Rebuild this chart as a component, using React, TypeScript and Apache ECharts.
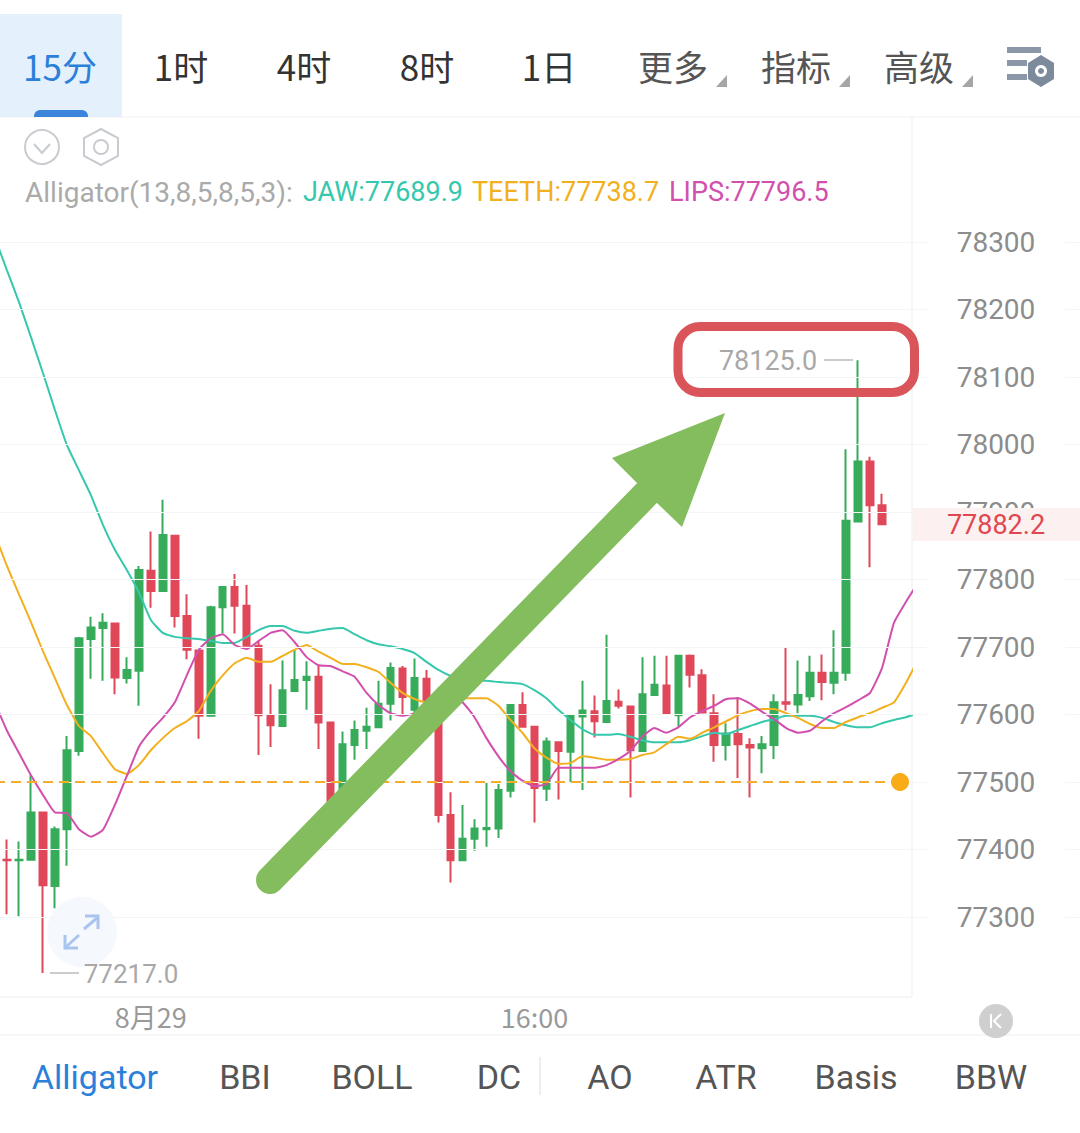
import React, { useEffect, useRef } from "react";
import * as echarts from "echarts";

const yTicks = [78300, 78200, 78100, 78000, 77900, 77800, 77700, 77600, 77500, 77400, 77300];
const xLabels: Record<number, string> = { 13: "8月29", 45: "16:00" };
const timeTabs = ["1时", "4时", "8时", "1日"];
const moreTabs = ["更多", "指标", "高级"];
const indicatorTabs = ["BBI", "BOLL", "DC", "AO", "ATR", "Basis", "BBW"];

// open, close, low, high
const candles = [
  [77385, 77384, 77304, 77415], [77384, 77385, 77301, 77412], [77385, 77455, 77385, 77510], [77455, 77347, 77217, 77455],
  [77346, 77430, 77313, 77434], [77430, 77547, 77376, 77568], [77546, 77713, 77539, 77715], [77712, 77729, 77653, 77745],
  [77728, 77736, 77650, 77750], [77735, 77655, 77630, 77735], [77654, 77666, 77646, 77685], [77665, 77814, 77613, 77820],
  [77813, 77783, 77758, 77871], [77783, 77866, 77783, 77918], [77865, 77746, 77729, 77865], [77746, 77696, 77682, 77778],
  [77695, 77598, 77564, 77696], [77598, 77759, 77598, 77761], [77759, 77789, 77720, 77789], [77789, 77761, 77720, 77808],
  [77761, 77702, 77702, 77792], [77702, 77599, 77540, 77708], [77598, 77584, 77552, 77645], [77583, 77636, 77583, 77680],
  [77635, 77651, 77635, 77696], [77651, 77656, 77607, 77679], [77656, 77588, 77549, 77673], [77588, 77470, 77460, 77588],
  [77480, 77556, 77470, 77575], [77555, 77577, 77533, 77591], [77576, 77582, 77549, 77610], [77581, 77616, 77581, 77650],
  [77616, 77669, 77591, 77677], [77668, 77626, 77600, 77672], [77607, 77654, 77600, 77683], [77653, 77620, 77610, 77666],
  [77630, 77451, 77440, 77640], [77451, 77384, 77351, 77485], [77384, 77416, 77384, 77466], [77416, 77431, 77398, 77445],
  [77430, 77432, 77404, 77499], [77431, 77488, 77417, 77497], [77487, 77614, 77477, 77614], [77614, 77582, 77582, 77633],
  [77582, 77491, 77440, 77582], [77490, 77560, 77472, 77566], [77559, 77546, 77474, 77559], [77545, 77598, 77500, 77598],
  [77597, 77606, 77488, 77650], [77605, 77590, 77566, 77628], [77589, 77620, 77589, 77718], [77619, 77613, 77609, 77637],
  [77612, 77547, 77477, 77612], [77546, 77630, 77546, 77685], [77629, 77644, 77629, 77687], [77643, 77601, 77601, 77687],
  [77599, 77687, 77582, 77687], [77687, 77659, 77640, 77689], [77658, 77603, 77603, 77667], [77602, 77555, 77530, 77630],
  [77555, 77572, 77532, 77587], [77571, 77556, 77506, 77626], [77555, 77551, 77477, 77565], [77550, 77556, 77513, 77568],
  [77555, 77618, 77534, 77630], [77618, 77616, 77606, 77700], [77615, 77629, 77602, 77680], [77627, 77662, 77620, 77687],
  [77662, 77648, 77621, 77689], [77647, 77662, 77630, 77725], [77662, 77887, 77650, 77993], [77886, 77975, 77886, 78125],
  [77975, 77910, 77818, 77982], [77910, 77882, 77882, 77927],
];

const jaw = [
  78306, 78258, 78211, 78159, 78106, 78051, 77999, 77962, 77925, 77881, 77844, 77814, 77781, 77740, 77721, 77715, 77713, 77712, 77709, 77706,
  77706, 77715, 77725, 77731, 77731, 77724, 77721, 77724, 77727, 77728, 77719, 77710, 77704, 77701, 77697, 77691, 77678, 77666, 77657, 77651,
  77650, 77650, 77648, 77647, 77645, 77636, 77624, 77607, 77592, 77578, 77570, 77570, 77571, 77567, 77562, 77559, 77559, 77559, 77562, 77568,
  77573, 77571, 77577, 77583, 77589, 77593, 77598, 77598, 77598, 77595, 77589, 77584, 77581, 77581, 77587, 77592, 77596, 77602,
];
const teeth = [
  77866, 77820, 77778, 77737, 77694, 77654, 77614, 77583, 77568, 77543, 77519, 77512, 77525, 77547, 77565, 77580, 77590, 77605, 77635, 77658,
  77676, 77684, 77678, 77678, 77687, 77696, 77703, 77693, 77684, 77675, 77675, 77670, 77663, 77647, 77632, 77623, 77618, 77618, 77621, 77624,
  77624, 77624, 77613, 77592, 77573, 77550, 77536, 77527, 77528, 77538, 77536, 77533, 77533, 77534, 77540, 77544, 77556, 77567, 77564, 77573,
  77581, 77590, 77599, 77605, 77608, 77608, 77602, 77595, 77586, 77580, 77580, 77589, 77596, 77602, 77610, 77618, 77647, 77681,
];
const lips = [
  77617, 77576, 77543, 77510, 77481, 77455, 77454, 77430, 77419, 77429, 77466, 77509, 77552, 77576, 77595, 77618, 77658, 77696, 77713, 77719,
  77703, 77697, 77709, 77721, 77725, 77707, 77685, 77673, 77672, 77664, 77656, 77632, 77614, 77602, 77598, 77602, 77610, 77617, 77621, 77618,
  77596, 77565, 77538, 77516, 77502, 77494, 77497, 77521, 77521, 77521, 77521, 77525, 77534, 77546, 77567, 77580, 77573, 77581, 77596, 77605,
  77613, 77623, 77624, 77616, 77604, 77593, 77580, 77573, 77576, 77590, 77602, 77611, 77621, 77632, 77669, 77736, 77767, 77795,
];
const priceLevel = 77500;
const highLabel = "78125.0";
const lowLabel = "77217.0";
const lastPrice = "77882.2";

const UP = "#36ab5a";
const DOWN = "#e0485a";
const TEAL = "#35c8ad";
const AMBER = "#f2b01e";
const PINK = "#d24fae";
const LATIN = "Roboto, 'Noto Sans', sans-serif";
const CJK = "'Noto Sans CJK SC', Roboto, sans-serif";

const T = (x: number, y: number, text: string, fill: string, size: number, align = "center", font = LATIN, z = 30) => ({
  type: "text", x, y, z, silent: true,
  style: { text, fill, fontSize: size, fontFamily: font, align, verticalAlign: "middle" },
});
const hexagon = (cx: number, cy: number, rx: number, ry: number) => [
  [cx, cy - ry], [cx + rx, cy - ry / 2], [cx + rx, cy + ry / 2], [cx, cy + ry], [cx - rx, cy + ry / 2], [cx - rx, cy - ry / 2],
];

export default function App() {
  const ref = useRef<HTMLDivElement>(null);
  useEffect(() => {
    const chart = echarts.init(ref.current!, undefined, { renderer: "svg" });
    const count = jaw.length;
    const cats = Array.from({ length: count }, (_, i) => xLabels[i] ?? "");
    const elements: any[] = [
      // header
      { type: "rect", z: 25, shape: { x: 0, y: 14, width: 122, height: 103 }, style: { fill: "#e5f0fd" } },
      { type: "rect", z: 26, shape: { x: 34, y: 110, width: 54, height: 7, r: [6, 6, 0, 0] }, style: { fill: "#3a84dc" } },
      T(60, 65, "15分", "#2b80da", 35, "center", CJK),
      ...timeTabs.map((t, i) => T([181, 304, 427, 549][i], 65, t, "#333333", 35, "center", CJK)),
      ...moreTabs.map((t, i) => T([673, 796, 919][i], 65, t, "#555555", 35, "center", CJK)),
      ...[727, 850, 973].map((x) => ({
        type: "polygon", z: 30, shape: { points: [[x, 75], [x, 87], [x - 11, 87]] }, style: { fill: "#a6a6a6" },
      })),
      { type: "rect", z: 30, shape: { x: 1007, y: 47, width: 34, height: 6 }, style: { fill: "#8b97a8" } },
      { type: "rect", z: 30, shape: { x: 1007, y: 60, width: 20, height: 6 }, style: { fill: "#8b97a8" } },
      { type: "rect", z: 30, shape: { x: 1007, y: 74, width: 20, height: 6 }, style: { fill: "#8b97a8" } },
      { type: "polygon", z: 30, shape: { points: hexagon(1041, 71, 13, 16) }, style: { fill: "#7d8a9c" } },
      { type: "circle", z: 31, shape: { cx: 1041, cy: 71, r: 6 }, style: { fill: "#fff" } },
      { type: "circle", z: 32, shape: { cx: 1041, cy: 71, r: 3 }, style: { fill: "#7d8a9c" } },
      // frames
      { type: "line", z: 3, shape: { x1: 0, y1: 117, x2: 1080, y2: 117 }, style: { stroke: "#f0f0f0", lineWidth: 1 } },
      { type: "line", z: 3, shape: { x1: 912, y1: 117, x2: 912, y2: 997 }, style: { stroke: "#eeeeee", lineWidth: 1 } },
      { type: "line", z: 3, shape: { x1: 0, y1: 997, x2: 912, y2: 997 }, style: { stroke: "#eeeeee", lineWidth: 1 } },
      { type: "line", z: 3, shape: { x1: 0, y1: 1035, x2: 1080, y2: 1035 }, style: { stroke: "#eeeeee", lineWidth: 1 } },
      // small icons
      { type: "circle", z: 30, shape: { cx: 42, cy: 147, r: 17 }, style: { fill: "none", stroke: "#c8cbd0", lineWidth: 2 } },
      { type: "polyline", z: 30, shape: { points: [[34, 144], [42, 153], [50, 144]] }, style: { fill: "none", stroke: "#c8cbd0", lineWidth: 2 } },
      { type: "polygon", z: 30, shape: { points: hexagon(101, 147, 17, 18) }, style: { fill: "none", stroke: "#c8cbd0", lineWidth: 2 } },
      { type: "circle", z: 30, shape: { cx: 101, cy: 147, r: 7 }, style: { fill: "none", stroke: "#c8cbd0", lineWidth: 2 } },
      // legend
      T(25, 192, "Alligator(13,8,5,8,5,3):", "#aaaaaa", 28, "left"),
      T(303, 192, "JAW:77689.9", TEAL, 27, "left"),
      T(472, 192, "TEETH:77738.7", AMBER, 27, "left"),
      T(669, 192, "LIPS:77796.5", PINK, 27, "left"),
      // hi/lo labels
      T(768, 361, highLabel, "#a8a8a8", 27),
      { type: "line", z: 30, shape: { x1: 824, y1: 360, x2: 853, y2: 360 }, style: { stroke: "#cccccc", lineWidth: 2 } },
      { type: "line", z: 30, shape: { x1: 50, y1: 973, x2: 79, y2: 973 }, style: { stroke: "#cccccc", lineWidth: 2 } },
      T(131, 974, lowLabel, "#a8a8a8", 26),
      // expand button
      { type: "circle", z: 24, shape: { cx: 82, cy: 932, r: 35 }, style: { fill: "#f3f7fd", opacity: 0.85 } },
      { type: "polyline", z: 30, shape: { points: [[84, 929], [97, 918]] }, style: { fill: "none", stroke: "#a9c4ee", lineWidth: 3 } },
      { type: "polyline", z: 30, shape: { points: [[85, 916], [98, 916], [98, 929]] }, style: { fill: "none", stroke: "#a9c4ee", lineWidth: 3 } },
      { type: "polyline", z: 30, shape: { points: [[66, 947], [79, 935]] }, style: { fill: "none", stroke: "#a9c4ee", lineWidth: 3 } },
      { type: "polyline", z: 30, shape: { points: [[65, 935], [65, 948], [78, 948]] }, style: { fill: "none", stroke: "#a9c4ee", lineWidth: 3 } },
      // price dot
      { type: "circle", z: 20, shape: { cx: 900, cy: 782, r: 9 }, style: { fill: "#f9ac17" } },
      // last price tag
      { type: "rect", z: 25, shape: { x: 913, y: 508, width: 167, height: 33 }, style: { fill: "#fdf0f0" } },
      T(996, 525, lastPrice, "#e0474f", 27),
      // annotation box and arrow
      { type: "rect", z: 40, shape: { x: 678, y: 326.5, width: 236.5, height: 66, r: 22 }, style: { fill: "none", stroke: "#d9555a", lineWidth: 9 } },
      { type: "line", z: 40, shape: { x1: 270, y1: 880, x2: 647, y2: 493 }, style: { stroke: "#84bd5e", lineWidth: 28, lineCap: "round" } },
      { type: "polygon", z: 41, shape: { points: [[725, 413], [682, 527], [657, 503], [637, 483], [612, 458]] }, style: { fill: "#84bd5e" } },
      // bottom tabs
      T(95, 1077, "Alligator", "#2b80da", 34),
      ...indicatorTabs.map((t, i) => T([245, 372, 499, 610, 726, 856, 991][i], 1077, t, "#555555", 34)),
      { type: "line", z: 30, shape: { x1: 540, y1: 1057, x2: 540, y2: 1095 }, style: { stroke: "#dddddd", lineWidth: 1 } },
      { type: "circle", z: 30, shape: { cx: 996, cy: 1021, r: 17 }, style: { fill: "#cfcfcf" } },
      { type: "polyline", z: 31, shape: { points: [[991, 1014], [991, 1028]] }, style: { fill: "none", stroke: "#fff", lineWidth: 2 } },
      { type: "polyline", z: 31, shape: { points: [[1001, 1014], [994, 1021], [1001, 1028]] }, style: { fill: "none", stroke: "#fff", lineWidth: 2 } },
    ];
    const line = (name: string, data: number[], color: string) => ({
      name, type: "line", data, xAxisIndex: 0, yAxisIndex: 0, symbol: "none", silent: true, clip: true,
      lineStyle: { color, width: 2 }, z: 3, smooth: 0.15,
    });
    chart.setOption({
      animation: false,
      backgroundColor: "#ffffff",
      grid: [
        { left: -11, top: 117, width: 923, height: 880, outerBoundsMode: "none" },
        { left: 0, top: 117, width: 1080, height: 880, outerBoundsMode: "none" },
      ],
      xAxis: [
        {
          type: "category", gridIndex: 0, data: cats, max: 76, boundaryGap: true,
          axisLine: { show: false }, axisTick: { show: false }, splitLine: { show: false },
          axisLabel: { interval: 0, color: "#999999", fontSize: 27, fontFamily: CJK, margin: 6, hideOverlap: false },
        },
        { type: "value", gridIndex: 1, show: false, min: 0, max: 1 },
      ],
      yAxis: [
        { type: "value", gridIndex: 0, show: false, scale: true, min: 77181.5, max: 78485.2 },
        {
          type: "value", gridIndex: 1, position: "right", scale: true, min: 77181.5, max: 78485.2, z: 4,
          axisLine: { show: false },
          axisTick: { show: false, customValues: yTicks },
          splitLine: { show: true, lineStyle: { color: "#f3f5f7", width: 1 } },
          axisLabel: {
            inside: true, customValues: yTicks, color: "#8c8c8c", fontSize: 28, fontFamily: LATIN, margin: 84, align: "center",
            backgroundColor: "#ffffff", padding: [0, 30], showMinLabel: true, showMaxLabel: true,
            formatter: (v: number) => String(v),
          },
        },
      ],
      graphic: { elements },
      series: [
        {
          name: "Kline", type: "candlestick", xAxisIndex: 0, yAxisIndex: 0, silent: true, barWidth: 7, clip: false,
          data: ["-", ...candles],
          itemStyle: { color: UP, color0: DOWN, borderColor: UP, borderColor0: DOWN, borderWidth: 2 },
        },
        line("JAW", jaw, TEAL),
        line("TEETH", teeth, AMBER),
        line("LIPS", lips, PINK),
        {
          name: "Price", type: "line", xAxisIndex: 0, yAxisIndex: 0, symbol: "none", silent: true, z: 3,
          data: [],
          markLine: {
            silent: true, symbol: "none", animation: false, label: { show: false },
            lineStyle: { color: "#f4ad2a", width: 2, type: [10, 6], opacity: 1 },
            data: [[{ xAxis: 0, yAxis: priceLevel }, { xAxis: 75, yAxis: priceLevel }]],
          },
        },
      ],
    });
    return () => chart.dispose();
  }, []);
  return <div ref={ref} style={{ position: "fixed", left: 0, top: 0, width: 1080, height: 1133, background: "#fff" }} />;
}
